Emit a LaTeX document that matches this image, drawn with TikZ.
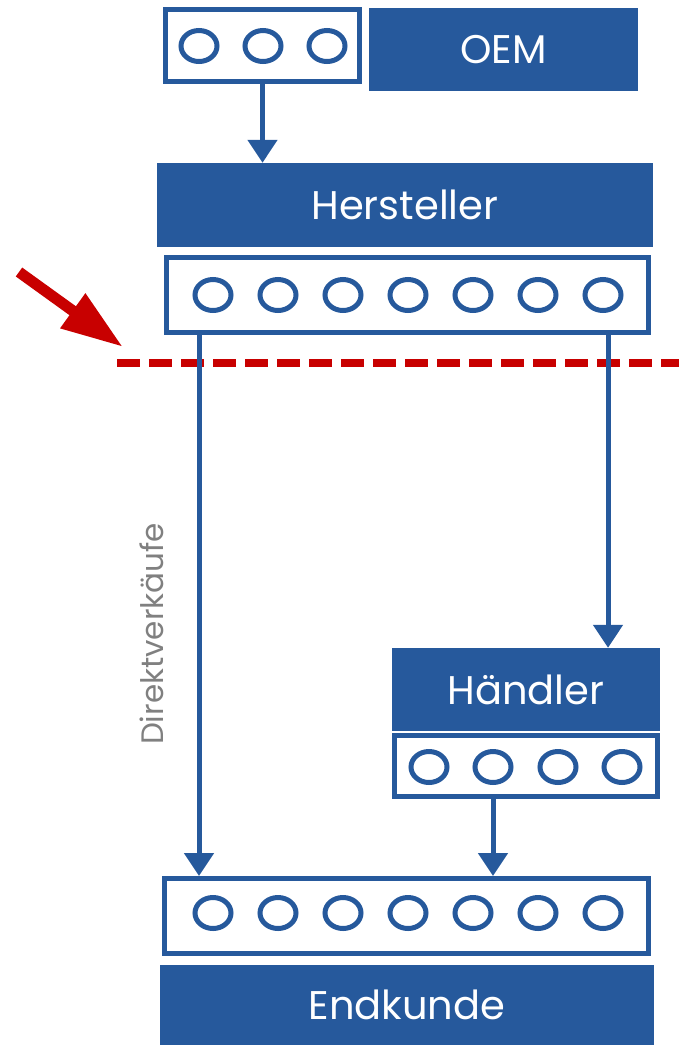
\documentclass[tikz,border=0pt]{standalone}
\usepackage{fontspec}
\setmainfont{Poppins}
\usetikzlibrary{arrows.meta,shapes.geometric}
\definecolor{vblau}{RGB}{38,89,156}
\definecolor{vrot}{RGB}{200,0,0}
\definecolor{vgrau}{RGB}{128,128,128}

\begin{document}
\begin{tikzpicture}[x=1pt, y=-1pt,
    block/.style={fill=vblau, draw=none, text=white, inner sep=0pt, font=\fontsize{40}{48}\selectfont},
    slotbox/.style={draw=vblau, line width=5pt, fill=white, inner sep=0pt},
    slot/.style={draw=vblau, ellipse, line width=5pt, minimum width=36pt, minimum height=31pt, inner sep=0pt},
    flow/.style={vblau, line width=5pt, -{Triangle[width=29pt,length=23pt]}},
    cutline/.style={vrot, line width=8pt, dash pattern=on 23pt off 9pt},
    alarm/.style={vrot, line width=11pt, -{Triangle[width=40pt,length=62pt]}}]
        \useasboundingbox (0,0) rectangle (679,1045);

        % OEM
        \node[slotbox, minimum width=194pt, minimum height=72pt] (oemslots) at (262.5,45.5) {};
        \foreach \i/\x in {1/199,2/263,3/327}
            \node[slot] (o\i) at (\x,46) {};
        \node[block, minimum width=269pt, minimum height=83pt] (oem) at (503.5,49.5) {OEM};

        % Hersteller
        \node[block, minimum width=496pt, minimum height=84pt] (hersteller) at (405,205) {Hersteller};
        \node[slotbox, minimum width=482pt, minimum height=75pt] (herslots) at (407.5,295) {};
        \foreach \i in {1,...,7}
            \node[slot] (h\i) at ({213+65*(\i-1)},295) {};

        % Haendler
        \node[block, minimum width=268pt, minimum height=83pt] (haendler) at (526,689.5) {Händler};
        \node[slotbox, minimum width=263pt, minimum height=61pt] (hslots) at (526,766) {};
        \foreach \i/\x in {1/429,2/493,3/558,4/622}
            \node[slot] (d\i) at (\x,767) {};

        % Endkunde
        \node[slotbox, minimum width=484pt, minimum height=75pt] (endslots) at (406.5,916) {};
        \foreach \i in {1,...,7}
            \node[slot] (e\i) at ({213+65*(\i-1)},913) {};
        \node[block, minimum width=494pt, minimum height=80pt] (endkunde) at (407,1005) {Endkunde};

        % Beschriftung
        \node[rotate=90, text=vgrau, inner sep=0pt, font=\fontsize{31}{36}\selectfont] (direkt) at (152,634) {Direktverkäufe};

        % Schnittlinie
        \coordinate (schnittA) at (117,363);
        \coordinate (schnittB) at (679,363);
        \coordinate (pfeilA) at (19,272);
        \coordinate (pfeilB) at (123,347);
        \draw[cutline] (schnittA) -- (schnittB);
        \draw[alarm] (pfeilA) -- (pfeilB);

        % Pfeile
        \draw[flow] (oemslots.south) -- (oemslots.south |- hersteller.north);
        \draw[flow] ([xshift=35pt]herslots.south west) -- ([xshift=35pt]herslots.south west |- endslots.north);
        \draw[flow] ([xshift=-43pt]herslots.south east) -- ([xshift=-43pt]herslots.south east |- haendler.north);
        \draw[flow] (d2 |- hslots.south) -- (d2 |- endslots.north);
\end{tikzpicture}
\end{document}
